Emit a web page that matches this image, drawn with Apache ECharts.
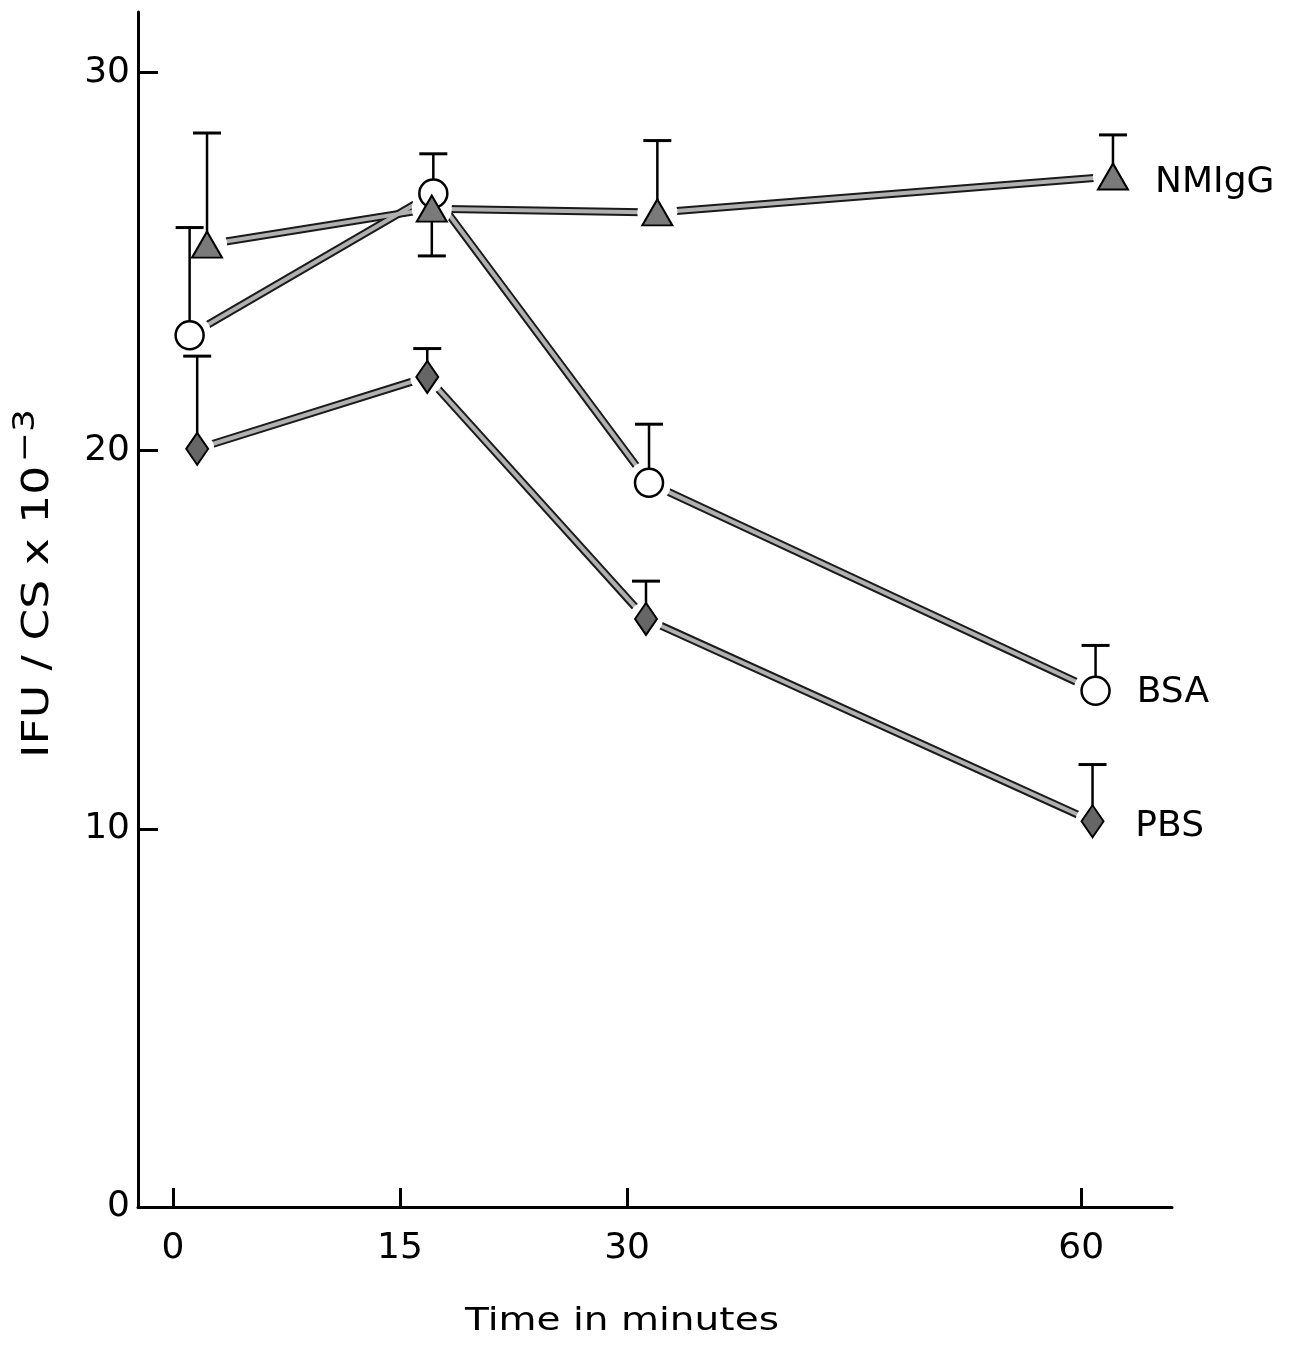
<!DOCTYPE html>
<html>
<head>
<meta charset="utf-8">
<script src="https://cdn.jsdelivr.net/npm/echarts@6/dist/echarts.min.js"></script>
<style>
  html, body { margin: 0; padding: 0; background: #fff; }
  #chart { width: 1299px; height: 1350px; }
</style>
</head>
<body>
<div id="chart"></div>
<script>
// values (time in minutes, IFU/CS x 10^-3)
// points are slightly jittered in time in the original, kept as read
const nmiggTime = [2.25, 17.1, 32.0, 62.1];
const nmiggValue = [25.45, 26.4, 26.3, 27.25];
const nmiggErrEnd = [28.4, 25.15, 28.2, 28.35];

const bsaTime = [1.1, 17.2, 31.45, 60.95];
const bsaValue = [23.05, 26.8, 19.15, 13.65];
const bsaErrEnd = [25.9, 27.85, 20.7, 14.85];

const pbsTime = [1.6, 16.8, 31.25, 60.75];
const pbsValue = [20.05, 21.95, 15.55, 10.2];
const pbsErrEnd = [22.5, 22.7, 16.55, 11.7];

const xTicks = [0, 15, 30, 60];
const yLabels = [0, 10, 20, 30];
const yTicks = [10, 20, 30];

const FONT = 'DejaVu Sans';

const chart = echarts.init(document.getElementById('chart'));

// measure text so the superscript can sit right after the title
const measureCtx = document.createElement('canvas').getContext('2d');
function textWidth(str, size) {
  measureCtx.font = size + 'px "' + FONT + '"';
  return measureCtx.measureText(str).width;
}

function pairs(t, v) {
  return t.map((x, i) => [x, v[i]]);
}

// double stroked connecting line: dark outline + grey core
function lineSeries(t, v) {
  return [
    {
      type: 'line', data: pairs(t, v), symbol: 'none', silent: true, z: 2,
      lineStyle: { color: '#1a1a1a', width: 8 }
    },
    {
      type: 'line', data: pairs(t, v), symbol: 'none', silent: true, z: 3,
      lineStyle: { color: '#b0b0b0', width: 4 }
    }
  ];
}

// white disc under each marker so lines stop short of it
function haloSeries(t, v, size) {
  return {
    type: 'scatter', data: pairs(t, v), symbol: 'circle', symbolSize: size,
    itemStyle: { color: '#fff', opacity: 1 }, silent: true, z: 4
  };
}

function errorSeries(t, v, e) {
  return {
    type: 'custom', z: 5, silent: true,
    data: t.map((x, i) => [x, v[i], e[i]]),
    encode: { x: 0, y: [1, 2] },
    renderItem(params, api) {
      const p = api.coord([api.value(0), api.value(1)]);
      const q = api.coord([api.value(0), api.value(2)]);
      return {
        type: 'group',
        children: [
          { type: 'line', shape: { x1: p[0], y1: p[1], x2: q[0], y2: q[1] },
            style: { stroke: '#000', lineWidth: 2.5 } },
          { type: 'line', shape: { x1: q[0] - 14, y1: q[1], x2: q[0] + 14, y2: q[1] },
            style: { stroke: '#000', lineWidth: 3 } }
        ]
      };
    }
  };
}

function markerSeries(t, v, name, symbol, size, itemStyle, dist, offset, z) {
  const last = t.length - 1;
  return {
    type: 'scatter', name: name, z: z, symbol: symbol, symbolSize: size,
    itemStyle: Object.assign({ opacity: 1 }, itemStyle),
    data: t.map((x, i) => i === last ? {
      value: [x, v[i]],
      label: {
        show: true, formatter: name, position: 'right', distance: dist, offset: offset,
        fontFamily: FONT, fontSize: 36, color: '#000'
      }
    } : [x, v[i]])
  };
}

const yTitle = 'IFU / CS x 10';
const yTitleSup = '−3';
const yTitleSize = 38;
const yTitleW = textWidth(yTitle, yTitleSize);

const option = {
  backgroundColor: '#fff',
  animation: false,
  grid: { left: 138, top: 12, right: 127, bottom: 143 },
  xAxis: {
    type: 'value', min: -2.31, max: 66,
    axisLine: { onZero: false, lineStyle: { color: '#000', width: 3 } },
    axisTick: { inside: true, length: 19, customValues: xTicks, lineStyle: { color: '#000', width: 3 } },
    axisLabel: { customValues: xTicks, margin: 24, fontFamily: FONT, fontSize: 36, color: '#000' },
    splitLine: { show: false }
  },
  yAxis: {
    type: 'value', min: 0, max: 31.6,
    axisLine: { show: true, onZero: false, lineStyle: { color: '#000', width: 3 } },
    axisTick: { show: true, inside: true, length: 20, customValues: yTicks, lineStyle: { color: '#000', width: 3 } },
    axisLabel: { customValues: yLabels, margin: 8, fontFamily: FONT, fontSize: 36, color: '#000' },
    splitLine: { show: false }
  },
  graphic: [
    {
      // y axis title, reads bottom to top, superscript exponent
      type: 'group', x: 38, y: 758, rotation: Math.PI / 2, scaleX: 1.2,
      children: [
        { type: 'text', x: 0, y: 0,
          style: { text: yTitle, align: 'left', verticalAlign: 'middle',
                   fontFamily: FONT, fontSize: yTitleSize, fill: '#000' } },
        { type: 'text', x: yTitleW + 3, y: -12,
          style: { text: yTitleSup, align: 'left', verticalAlign: 'middle',
                   fontFamily: FONT, fontSize: 30, fill: '#000' } }
      ]
    },
    {
      type: 'text', x: 622, y: 1322, scaleX: 1.22,
      style: {
        text: 'Time in minutes', align: 'center', verticalAlign: 'middle',
        fontFamily: FONT, fontSize: 32, fill: '#000'
      }
    }
  ],
  series: [
    ...lineSeries(nmiggTime, nmiggValue),
    ...lineSeries(bsaTime, bsaValue),
    ...lineSeries(pbsTime, pbsValue),
    haloSeries(nmiggTime, nmiggValue, 40),
    haloSeries(bsaTime, bsaValue, 44),
    haloSeries(pbsTime, pbsValue, 34),
    errorSeries(nmiggTime, nmiggValue, nmiggErrEnd),
    errorSeries(bsaTime, bsaValue, bsaErrEnd),
    errorSeries(pbsTime, pbsValue, pbsErrEnd),
    markerSeries(bsaTime, bsaValue, 'BSA', 'circle', 28,
      { color: '#fff', borderColor: '#000', borderWidth: 2.5 }, 26, [0, 2], 6),
    markerSeries(pbsTime, pbsValue, 'PBS', 'diamond', [22, 32],
      { color: '#666', borderColor: '#000', borderWidth: 2 }, 31, [0, 5], 6),
    markerSeries(nmiggTime, nmiggValue, 'NMIgG', 'triangle', [30, 26],
      { color: '#7a7a7a', borderColor: '#000', borderWidth: 2 }, 26, [0, 6], 7)
  ]
};

chart.setOption(option);
</script>
</body>
</html>
